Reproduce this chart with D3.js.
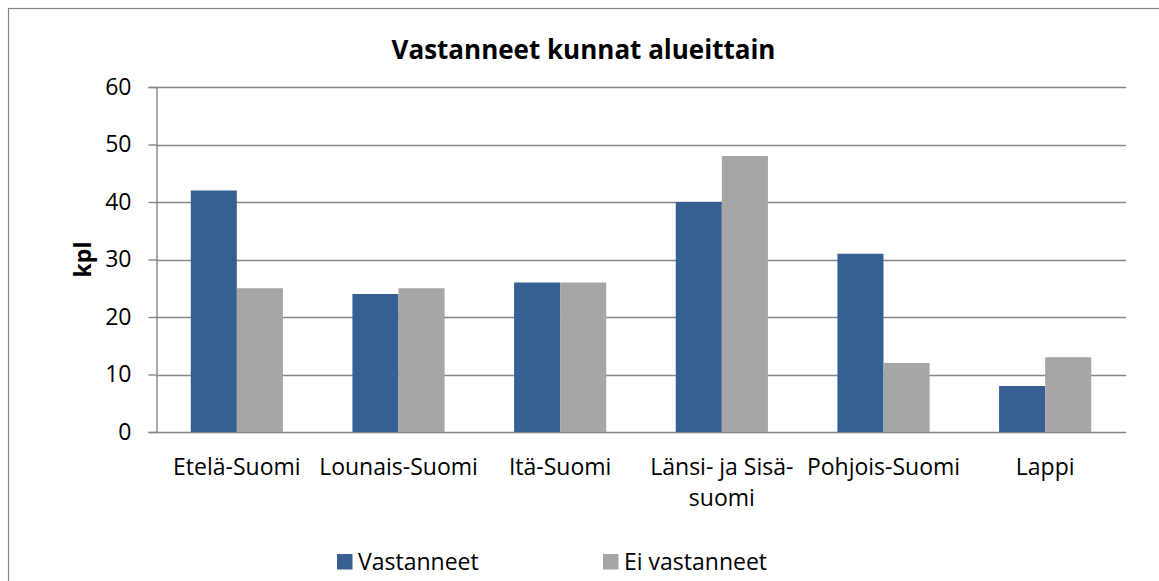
<!DOCTYPE html>
<html>
<head>
<meta charset="utf-8">
<script src="https://cdn.jsdelivr.net/npm/d3@7"></script>
<style>
  body { margin: 0; background: #fff; }
  text { font-family: "Open Sans", sans-serif; fill: #000; }
</style>
</head>
<body>
<div id="chart"></div>
<script>
// data
const categories = ["Etelä-Suomi", "Lounais-Suomi", "Itä-Suomi", "Länsi- ja Sisä-suomi", "Pohjois-Suomi", "Lappi"];
const series = ["Vastanneet", "Ei vastanneet"];
const vastanneet = [42, 24, 26, 40, 31, 8];
const eiVastanneet = [25, 25, 26, 48, 12, 13];
const yTicks = [0, 10, 20, 30, 40, 50, 60];
const colors = ["#376092", "#a6a6a6"];

const width = 1159;
const height = 581;
const margin = { top: 87, right: 33, bottom: 149, left: 156 };

const rows = categories.map((c, i) => ({ name: c, values: [vastanneet[i], eiVastanneet[i]] }));

const svg = d3.select('#chart')
    .append('svg')
    .attr('width', width)
    .attr('height', height);

// chart frame (right/bottom edges fall outside the picture)
svg.append('rect')
    .attr('x', 8.5).attr('y', 8.5)
    .attr('width', width + 20).attr('height', height + 20)
    .attr('fill', 'none')
    .attr('stroke', '#878787')
    .attr('stroke-width', 1.2);

const x = d3.scaleBand()
    .domain(categories)
    .range([margin.left, width - margin.right])
    .paddingInner(0.43)
    .paddingOuter(0.215);

const x1 = d3.scaleBand()
    .domain(series)
    .range([0, x.bandwidth()]);

const y = d3.scaleLinear()
    .domain([0, 60])
    .range([height - margin.bottom, margin.top]);

// gridlines
svg.append('g')
    .selectAll('line')
    .data(yTicks)
    .join('line')
    .attr('x1', margin.left)
    .attr('x2', width - margin.right)
    .attr('y1', d => Math.round(y(d)) + 0.5)
    .attr('y2', d => Math.round(y(d)) + 0.5)
    .attr('stroke', '#878787')
    .attr('stroke-width', 1.4);

// bars
svg.append('g')
    .selectAll('g')
    .data(rows)
    .join('g')
    .attr('transform', d => `translate(${x(d.name)},0)`)
    .selectAll('rect')
    .data(d => d.values.map((v, k) => ({ key: series[k], v: v, k: k })))
    .join('rect')
    .attr('x', d => x1(d.key))
    .attr('y', d => y(d.v))
    .attr('width', x1.bandwidth())
    .attr('height', d => y(0) - y(d.v))
    .attr('fill', d => colors[d.k]);

// y axis
const yAxis = svg.append('g')
    .attr('transform', `translate(${margin.left + 0.5},0)`)
    .call(d3.axisLeft(y).tickValues(yTicks).tickSize(8).tickPadding(17));
yAxis.select('.domain').attr('stroke', '#878787').attr('stroke-width', 1.4);
yAxis.selectAll('.tick line').attr('stroke', '#878787').attr('stroke-width', 1.4);
yAxis.selectAll('.tick text')
    .attr('font-size', '23px')
    .attr('font-family', '"Open Sans", sans-serif')
    .attr('fill', '#000');

// x axis
const xAxis = svg.append('g')
    .attr('transform', `translate(0,${height - margin.bottom})`)
    .call(d3.axisBottom(x).tickSize(0).tickPadding(0));
xAxis.select('.domain').remove();
xAxis.selectAll('.tick text')
    .attr('font-size', '23px')
    .attr('font-family', '"Open Sans", sans-serif')
    .attr('fill', '#000')
    .attr('dy', null)
    .call(wrap, x.step());

// break long labels after spaces / hyphens, like Excel does
function wrap(sel, maxW) {
    sel.each(function () {
        const t = d3.select(this);
        const parts = t.text().match(/[^\s-]+-?\s*/g);
        t.text(null);
        const lines = [];
        let cur = '';
        const probe = t.append('tspan');
        parts.forEach(p => {
            probe.text((cur + p).trim());
            if (cur !== '' && probe.node().getComputedTextLength() > maxW) {
                lines.push(cur.trim());
                cur = p;
            } else {
                cur += p;
            }
        });
        lines.push(cur.trim());
        probe.remove();
        lines.forEach((l, i) => {
            t.append('tspan').attr('x', 0).attr('y', 43 + i * 31).text(l);
        });
    });
}

// y axis title
svg.append('text')
    .attr('transform', `translate(91,${(y(0) + y(60)) / 2}) rotate(-90)`)
    .attr('text-anchor', 'middle')
    .attr('font-size', '23px')
    .attr('font-weight', 'bold')
    .text('kpl');

// title
svg.append('text')
    .attr('x', 583.5)
    .attr('y', 59)
    .attr('text-anchor', 'middle')
    .attr('font-size', '26px')
    .attr('font-weight', 'bold')
    .text('Vastanneet kunnat alueittain');

// legend
const legendX = [337, 603];
const legend = svg.append('g')
    .selectAll('g')
    .data(series)
    .join('g')
    .attr('transform', (d, i) => `translate(${legendX[i]},554)`);
legend.append('rect')
    .attr('width', 15.5).attr('height', 15.5)
    .attr('fill', (d, i) => colors[i]);
legend.append('text')
    .attr('x', 21)
    .attr('y', 15.5)
    .attr('font-size', '23px')
    .text(d => d);
</script>
</body>
</html>
